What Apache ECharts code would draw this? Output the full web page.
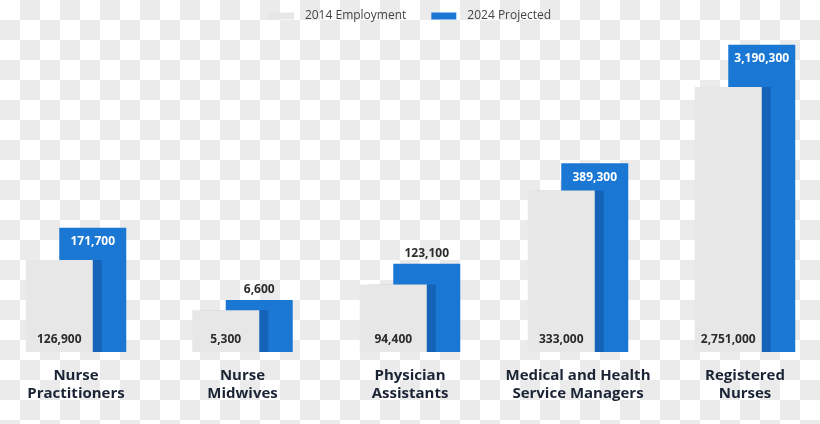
<!DOCTYPE html>
<html><head><meta charset="utf-8">
<script src="https://cdn.jsdelivr.net/npm/echarts@6/dist/echarts.min.js"></script>
<style>
html,body{margin:0;padding:0;background:#fff;}
#c{width:820px;height:424px;background:repeating-conic-gradient(#ebebeb 0% 25%, #ffffff 0% 50%) 0 0 / 40px 40px;}
</style>
</head><body><div id="c"></div>
<script>
const categories = ['Nurse\nPractitioners', 'Nurse\nMidwives', 'Physician\nAssistants', 'Medical and Health\nService Managers', 'Registered\nNurses'];
const employment2014 = [126900, 5300, 94400, 333000, 2751000];
const projected2024 = [171700, 6600, 123100, 389300, 3190300];
const axisMaxes = [435000, 40000, 440000, 650000, 3270000];
const seriesNames = ['2014 Employment', '2024 Projected'];

const centers = [76, 242.5, 410, 578, 745];
const GW = 148, TOP = 37, H = 315;
const FONT = 'Open Sans';
const fmt = p => Number(p.value).toLocaleString('en-US');

const grid = centers.map(c => ({ left: c - GW / 2, width: GW, top: TOP, height: H }));
const xAxis = categories.map((cat, i) => ({
  type: 'category', gridIndex: i, data: [cat],
  axisLine: { show: false }, axisTick: { show: false }, splitLine: { show: false },
  axisLabel: { margin: 15, fontFamily: FONT, fontWeight: 'bold', fontSize: 15, lineHeight: 18, color: '#1b2435', interval: 0 }
}));
const yAxis = axisMaxes.map((m, i) => ({ type: 'value', gridIndex: i, min: 0, max: m, show: false }));

const series = [];
categories.forEach((cat, i) => {
  series.push({
    type: 'bar', name: seriesNames[0], xAxisIndex: i, yAxisIndex: i,
    data: [employment2014[i]], barWidth: 67, barGap: '-50%', z: 3,
    itemStyle: { color: '#e7e7e7', shadowColor: 'rgba(5,35,100,0.24)', shadowOffsetX: 9, shadowOffsetY: 0, shadowBlur: 0 },
    label: { show: true, position: 'insideBottom', distance: 6, formatter: fmt, color: '#2b2b2b', fontWeight: 'bold', fontSize: 12, fontFamily: FONT },
    emphasis: { disabled: true }
  });
  const gapPx = (projected2024[i] - employment2014[i]) / axisMaxes[i] * H;
  const inside = gapPx >= 24;
  series.push({
    type: 'bar', name: seriesNames[1], xAxisIndex: i, yAxisIndex: i,
    data: [projected2024[i]], barWidth: 67, barGap: '-50%', z: 2,
    itemStyle: { color: '#1a78d4' },
    label: inside
      ? { show: true, position: 'insideTop', distance: 8, formatter: fmt, color: '#ffffff', fontWeight: 'bold', fontSize: 12, fontFamily: FONT }
      : { show: true, position: 'top', distance: 4, formatter: fmt, color: '#2b2b2b', fontWeight: 'bold', fontSize: 12, fontFamily: FONT },
    emphasis: { disabled: true }
  });
});

const chart = echarts.init(document.getElementById('c'), null, { renderer: 'canvas' });
chart.setOption({
  animation: false,
  legend: {
    data: seriesNames, top: 5, left: 'center', icon: 'rect',
    itemWidth: 25, itemHeight: 7, itemGap: 25,
    itemStyle: { shadowBlur: 0, shadowOffsetX: 0, shadowOffsetY: 0, shadowColor: 'rgba(0,0,0,0)' },
    textStyle: { fontFamily: FONT, fontSize: 12, color: '#444', padding: [0, 0, 0, 6] }
  },
  grid, xAxis, yAxis, series
});
</script>
</body></html>
